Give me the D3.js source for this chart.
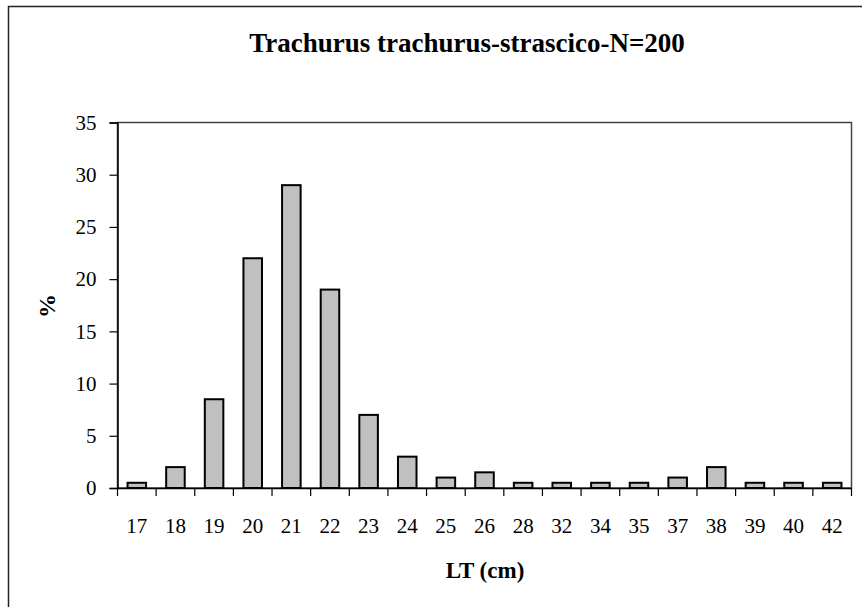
<!DOCTYPE html>
<html><head><meta charset="utf-8">
<script src="https://cdn.jsdelivr.net/npm/d3@7"></script>
</head>
<body style="margin:0;background:#fff">
<svg id="chart" width="862" height="607" style="display:block" font-family="Liberation Serif"></svg>
<script>
const title = "Trachurus trachurus-strascico-N=200";
const xTitle = "LT (cm)";
const yTitle = "%";
const categories = ["17","18","19","20","21","22","23","24","25","26","28","32","34","35","37","38","39","40","42"];
const values = [0.5,2,8.5,22,29,19,7,3,1,1.5,0.5,0.5,0.5,0.5,1,2,0.5,0.5,0.5];
const yTicks = [0,5,10,15,20,25,30,35];

const svg = d3.select("#chart");
const W = 862, H = 607;
const L = 117.5, R = 851.5, T = 122.5, B = 488;

// outer chart border (right/bottom beyond visible area)
svg.append("rect").attr("x",8.5).attr("y",6.5).attr("width",W+10).attr("height",H+10)
  .attr("fill","none").attr("stroke","#222").attr("stroke-width",1.5);

const x = d3.scaleBand().domain(categories).range([L,R]).paddingInner(0.52).paddingOuter(0.26);
const y = d3.scaleLinear().domain([0,35]).range([B,T]);

// plot area border
svg.append("rect").attr("x",L).attr("y",T).attr("width",R-L).attr("height",B-T)
  .attr("fill","none").attr("stroke","#444").attr("stroke-width",1.5);

// bars
svg.append("g").selectAll("rect").data(values).join("rect")
  .attr("x",(d,i)=>x(categories[i]))
  .attr("y",d=>y(d))
  .attr("width",x.bandwidth())
  .attr("height",d=>B-y(d))
  .attr("fill","#c0c0c0").attr("stroke","#000").attr("stroke-width",2);

// y axis
const yAxis = svg.append("g").attr("transform",`translate(${L},0)`)
  .call(d3.axisLeft(y).tickValues(yTicks).tickSize(8).tickPadding(13).tickFormat(d3.format("d")));
yAxis.attr("font-family",null).attr("font-size",null);
yAxis.select(".domain").attr("stroke","#000").attr("stroke-width",1.5);
yAxis.selectAll(".tick line").attr("stroke","#000").attr("stroke-width",1.2);
yAxis.selectAll(".tick text").attr("font-size",21).attr("fill","#000");

// x axis
const xAxis = svg.append("g").attr("transform",`translate(0,${B})`)
  .call(d3.axisBottom(x).tickSize(0).tickPadding(30));
xAxis.attr("font-family",null).attr("font-size",null);
xAxis.select(".domain").attr("stroke","#000").attr("stroke-width",1.5);
xAxis.selectAll(".tick text").attr("font-size",21).attr("fill","#000");
// category boundary ticks
const half = (x.step()-x.bandwidth())/2;
const bounds = categories.map(c=>x(c)-half).concat([x(categories[categories.length-1])+x.bandwidth()+half]);
svg.append("g").selectAll("line").data(bounds).join("line")
  .attr("x1",d=>d).attr("x2",d=>d).attr("y1",B).attr("y2",B+8)
  .attr("stroke","#000").attr("stroke-width",1.2);

// titles
svg.append("text").attr("x",467).attr("y",52).attr("text-anchor","middle")
  .attr("font-size",27).attr("font-weight","bold").text(title);
svg.append("text").attr("x",485).attr("y",578).attr("text-anchor","middle")
  .attr("font-size",23).attr("font-weight","bold").text(xTitle);
svg.append("text").attr("transform","translate(55,306) rotate(-90)").attr("text-anchor","middle")
  .attr("font-size",24).attr("font-weight","bold").text(yTitle);
</script>
</body></html>
